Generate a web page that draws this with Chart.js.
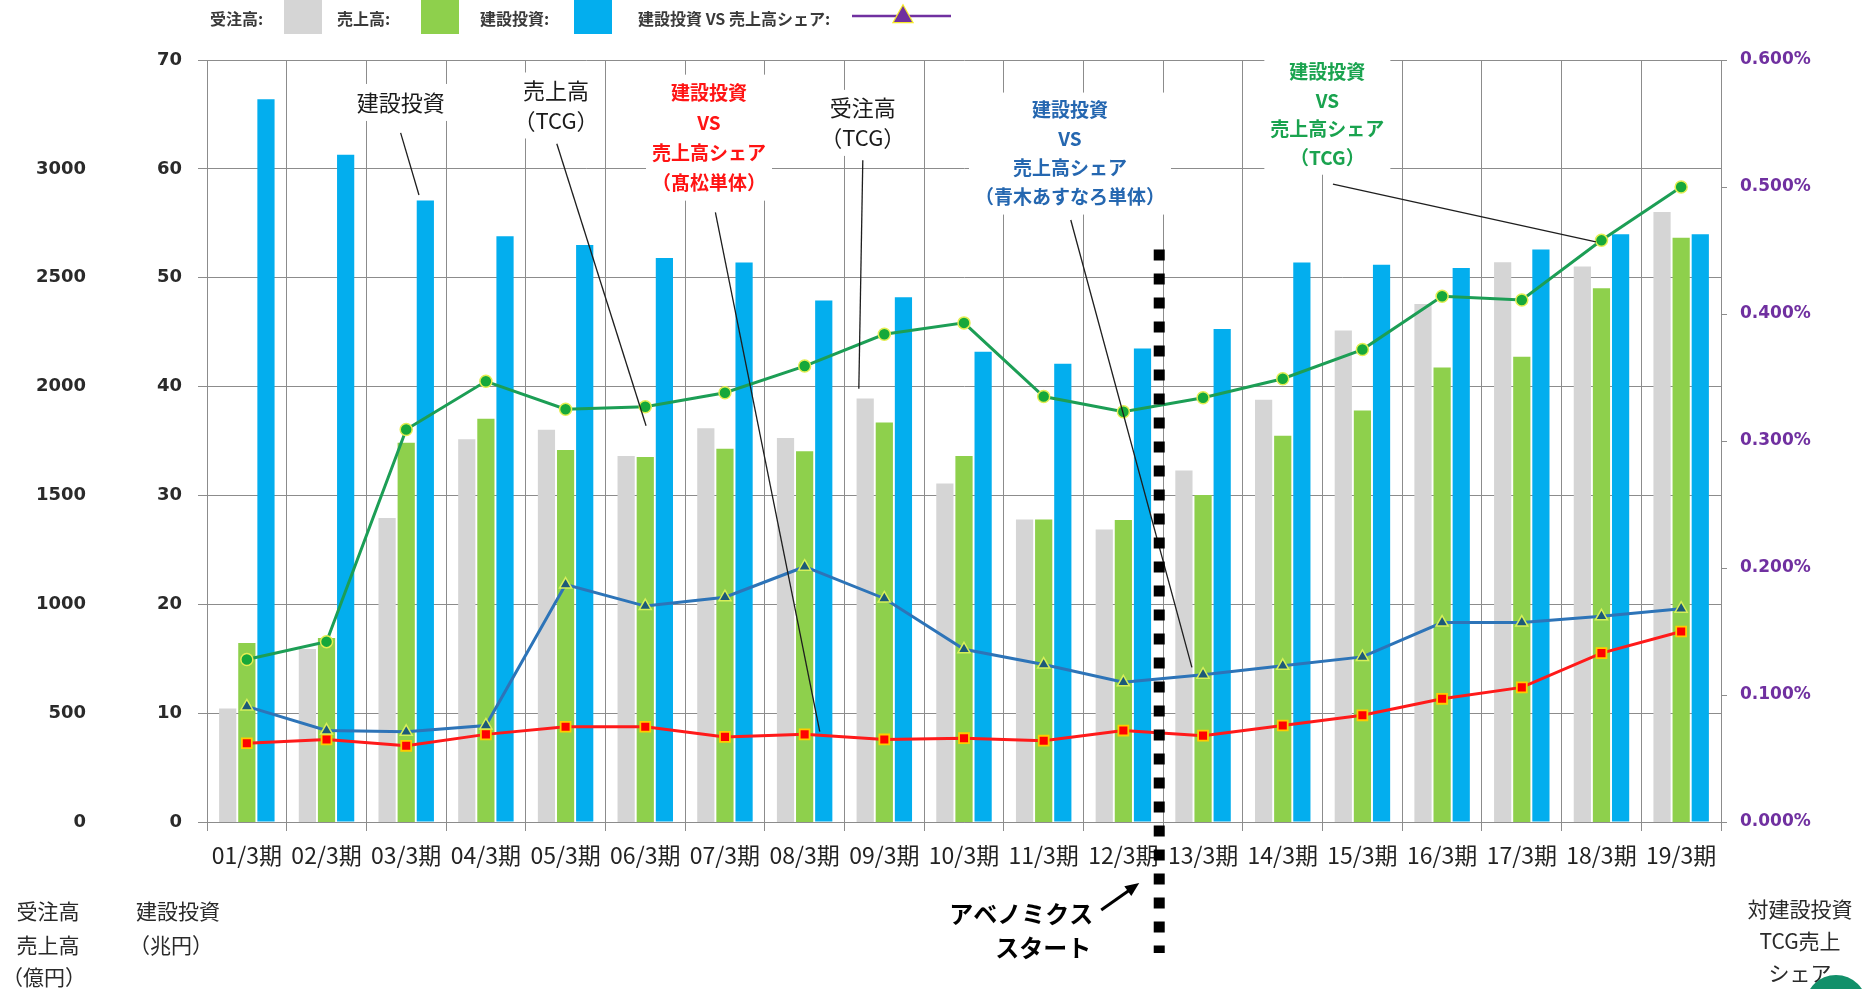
<!DOCTYPE html>
<html><head><meta charset="utf-8">
<script src="https://cdn.jsdelivr.net/npm/chart.js@4.4.1/dist/chart.umd.min.js"></script>
<style>
html,body{margin:0;padding:0;background:#fff;}
#wrap{position:relative;width:1875px;height:989px;overflow:hidden;}
canvas{display:block;}
</style>
</head><body>
<div id="wrap"><canvas id="c" width="1875" height="989"></canvas></div>
<script>
// ---------------- data ----------------
const categories = ['01/3期','02/3期','03/3期','04/3期','05/3期','06/3期','07/3期','08/3期','09/3期','10/3期','11/3期','12/3期','13/3期','14/3期','15/3期','16/3期','17/3期','18/3期','19/3期'];
const ordersOku = [521, 795, 1396, 1758, 1802, 1681, 1808, 1764, 1945, 1555, 1390, 1343, 1614, 1940, 2258, 2379, 2571, 2552, 2802];   // 受注高 (億円)
const salesOku  = [822, 845, 1742, 1852, 1709, 1676, 1714, 1703, 1835, 1681, 1390, 1387, 1502, 1774, 1890, 2088, 2137, 2452, 2683];   // 売上高 (億円)
const investCho = [66.4, 61.3, 57.1, 53.8, 53.0, 51.8, 51.4, 47.9, 48.2, 43.2, 42.1, 43.5, 45.3, 51.4, 51.2, 50.9, 52.6, 54.0, 54.0]; // 建設投資 (兆円)
const shareTCG  = [0.128, 0.142, 0.309, 0.347, 0.325, 0.327, 0.338, 0.359, 0.384, 0.393, 0.335, 0.323, 0.334, 0.349, 0.372, 0.414, 0.411, 0.458, 0.500];
const shareAoki = [0.091, 0.072, 0.071, 0.076, 0.187, 0.170, 0.177, 0.201, 0.176, 0.136, 0.124, 0.110, 0.116, 0.123, 0.130, 0.157, 0.157, 0.162, 0.168];
const shareTakamatsu = [0.062, 0.065, 0.060, 0.069, 0.075, 0.075, 0.067, 0.069, 0.065, 0.066, 0.064, 0.072, 0.068, 0.076, 0.084, 0.097, 0.106, 0.133, 0.150];
const choTicks = [0, 10, 20, 30, 40, 50, 60, 70];
const okuTicks = [0, 500, 1000, 1500, 2000, 2500, 3000];
const pctTicks = [0, 0.1, 0.2, 0.3, 0.4, 0.5, 0.6];
const pctTickLabels = ['0.000%', '0.100%', '0.200%', '0.300%', '0.400%', '0.500%', '0.600%'];
const legendLabels = ['受注高:', '売上高:', '建設投資:', '建設投資 VS 売上高シェア:'];

// ---------------- styles ----------------
const JP = '"Noto Sans CJK JP", "Noto Sans", sans-serif';
const GRID = '#8c8c8c';
const C_ORDER = '#d5d5d5', C_SALES = '#8ed04c', C_INVEST = '#03aeee';

// annotations: x in category index, y in 兆円 units
const annotations = [
  {lines:['建設投資'], x:1.93, y:66.1, color:'#1a1a1a', bold:false, size:22, lh:31, leader:[1.93,63.3,2.16,57.6]},
  {lines:['売上高','（TCG）'], x:3.88, y:67.2, color:'#1a1a1a', bold:false, size:22, lh:30, leader:[3.89,62.3,5.01,36.4]},
  {lines:['建設投資','VS','売上高シェア','（髙松単体）'], x:5.80, y:67.0, color:'#ff1414', bold:true, size:19, lh:30, leader:[5.88,56.0,7.19,8.3]},
  {lines:['受注高','（TCG）'], x:7.73, y:65.6, color:'#1a1a1a', bold:false, size:22, lh:30, leader:[7.73,60.8,7.68,39.8]},
  {lines:['建設投資','VS','売上高シェア','（青木あすなろ単体）'], x:10.33, y:65.4, color:'#2567b0', bold:true, size:19, lh:29, leader:[10.34,55.3,11.86,14.2]},
  {lines:['建設投資','VS','売上高シェア','（TCG）'], x:13.56, y:68.9, color:'#1aa34f', bold:true, size:19, lh:28.5, leader:[13.63,58.6,16.93,53.3]}
];

function annGeom(chart, a){
  const {ctx} = chart; const xs = chart.scales.x, ys = chart.scales.yCho;
  ctx.font = (a.bold ? 'bold ' : '') + a.size + 'px ' + JP;
  let w = 0; a.lines.forEach(t => { w = Math.max(w, ctx.measureText(t).width); });
  const cx = xs.getPixelForValue(a.x), cy = ys.getPixelForValue(a.y);
  return {cx, cy, w, h: a.lh * a.lines.length};
}

const decor = {
  id: 'decor',
  beforeDatasetsDraw(chart){
    const {ctx} = chart;
    ctx.save();
    ctx.fillStyle = '#ffffff';
    annotations.forEach(a => {
      const g = annGeom(chart, a);
      ctx.fillRect(g.cx - g.w/2 - 6, g.cy - a.lh/2 - 3, g.w + 12, g.h + 6);
    });
    ctx.restore();
  },
  afterDatasetsDraw(chart){
    const {ctx} = chart; const xs = chart.scales.x, ys = chart.scales.yCho;
    ctx.save();
    // leader lines
    ctx.strokeStyle = '#1e1e1e'; ctx.lineWidth = 1.3;
    annotations.forEach(a => {
      const [x1,y1,x2,y2] = a.leader;
      ctx.beginPath();
      ctx.moveTo(xs.getPixelForValue(x1), ys.getPixelForValue(y1));
      ctx.lineTo(xs.getPixelForValue(x2), ys.getPixelForValue(y2));
      ctx.stroke();
    });
    // texts
    ctx.textAlign = 'center'; ctx.textBaseline = 'middle';
    annotations.forEach(a => {
      const g = annGeom(chart, a);
      ctx.font = (a.bold ? 'bold ' : '') + a.size + 'px ' + JP;
      a.lines.forEach((t, i) => {
        const yy = g.cy + i * a.lh;
        if (a.bold) { ctx.strokeStyle = 'rgba(255,255,255,0.9)'; ctx.lineWidth = 3; ctx.strokeText(t, g.cx, yy); }
        ctx.fillStyle = a.color; ctx.fillText(t, g.cx, yy);
      });
    });
    // dotted vertical line (Abenomics start)
    const dx = xs.getPixelForValue(11.45);
    const top = ys.getPixelForValue(52.6);
    const bottom = chart.chartArea.bottom + 131;
    ctx.setLineDash([11, 13]); ctx.lineDashOffset = 0;
    ctx.strokeStyle = '#000'; ctx.lineWidth = 11; ctx.lineCap = 'butt';
    ctx.beginPath(); ctx.moveTo(dx, top); ctx.lineTo(dx, bottom); ctx.stroke();
    ctx.setLineDash([]);
    // arrow + text
    const b = chart.chartArea.bottom;
    const ax1 = dx - 58, ay1 = b + 88, ax2 = dx - 20, ay2 = b + 61;
    ctx.strokeStyle = '#000'; ctx.lineWidth = 3;
    ctx.beginPath(); ctx.moveTo(ax1, ay1); ctx.lineTo(ax2 - 6, ay2 + 4.5); ctx.stroke();
    const ang = Math.atan2(ay2 - ay1, ax2 - ax1);
    ctx.fillStyle = '#000'; ctx.beginPath();
    ctx.moveTo(ax2, ay2);
    ctx.lineTo(ax2 - 14*Math.cos(ang) + 6*Math.sin(ang), ay2 - 14*Math.sin(ang) - 6*Math.cos(ang));
    ctx.lineTo(ax2 - 14*Math.cos(ang) - 6*Math.sin(ang), ay2 - 14*Math.sin(ang) + 6*Math.cos(ang));
    ctx.closePath(); ctx.fill();
    ctx.font = 'bold 24px ' + JP; ctx.textAlign = 'right'; ctx.textBaseline = 'middle';
    ctx.fillText('アベノミクス', dx - 66, b + 92);
    ctx.fillText('スタート', dx - 68, b + 126);
    ctx.restore();
  },
  afterDraw(chart){
    const {ctx} = chart;
    ctx.save();
    // legend
    ctx.font = 'bold 16px ' + JP; ctx.textBaseline = 'middle'; ctx.textAlign = 'left'; ctx.fillStyle = '#3a3a3a';
    const lx = [210, 337, 480, 638];
    const bx = [284, 421, 574];
    const bcol = [C_ORDER, C_SALES, C_INVEST];
    legendLabels.forEach((t, i) => ctx.fillText(t, lx[i], 19));
    bcol.forEach((c, i) => { ctx.fillStyle = c; ctx.fillRect(bx[i], 0, 38, 34); });
    ctx.strokeStyle = '#7030a0'; ctx.lineWidth = 2.5;
    ctx.beginPath(); ctx.moveTo(852, 16); ctx.lineTo(951, 16); ctx.stroke();
    ctx.fillStyle = '#7030a0'; ctx.strokeStyle = '#f5e82a'; ctx.lineWidth = 2.5;
    ctx.beginPath(); ctx.moveTo(903, 6); ctx.lineTo(912, 22); ctx.lineTo(894, 22); ctx.closePath(); ctx.stroke(); ctx.fill();
    // axis titles
    ctx.fillStyle = '#2a2a2a'; ctx.font = '21px ' + JP; ctx.textAlign = 'center';
    [['受注高', 911], ['売上高', 945], ['（億円）', 977]].forEach(([t, y]) => ctx.fillText(t, t.startsWith('（') ? 44 : 48, y));
    [['建設投資', 911], ['（兆円）', 945]].forEach(([t, y]) => ctx.fillText(t, t.startsWith('（') ? 171 : 178, y));
    [['対建設投資', 909], ['TCG売上', 941], ['シェア', 973]].forEach(([t, y]) => ctx.fillText(t, 1800, y));
    // decorative circle
    ctx.fillStyle = '#12906a';
    ctx.beginPath(); ctx.arc(1836, 1006, 31, 0, Math.PI*2); ctx.fill();
    ctx.restore();
  }
};

new Chart(document.getElementById('c'), {
  type: 'bar',
  data: {
    labels: categories,
    datasets: [
      {type:'line', label:'建設投資 VS 売上高シェア (TCG)', data: shareTCG, yAxisID:'yPct', order:0,
       borderColor:'#1c9e55', borderWidth:3, tension:0, pointStyle:'circle', pointRadius:6,
       pointBackgroundColor:'#16a83a', pointBorderColor:'#e4ee52', pointBorderWidth:1.5},
      {type:'line', label:'建設投資 VS 売上高シェア (青木あすなろ単体)', data: shareAoki, yAxisID:'yPct', order:0,
       borderColor:'#2d74b8', borderWidth:3, tension:0, pointStyle:'triangle', pointRadius:7,
       pointBackgroundColor:'#1d5a78', pointBorderColor:'#d6ef5a', pointBorderWidth:1.5},
      {type:'line', label:'建設投資 VS 売上高シェア (髙松単体)', data: shareTakamatsu, yAxisID:'yPct', order:0,
       borderColor:'#ff1a1a', borderWidth:3, tension:0, pointStyle:'rect', pointRadius:7,
       pointBackgroundColor:'#ff0000', pointBorderColor:'#ffcc00', pointBorderWidth:1.8},
      {label:'受注高', data: ordersOku, yAxisID:'yOku', order:1, backgroundColor:C_ORDER,
       categoryPercentage:0.72, barPercentage:0.9},
      {label:'売上高', data: salesOku, yAxisID:'yOku', order:1, backgroundColor:C_SALES,
       categoryPercentage:0.72, barPercentage:0.9},
      {label:'建設投資', data: investCho, yAxisID:'yCho', order:1, backgroundColor:C_INVEST,
       categoryPercentage:0.72, barPercentage:0.9}
    ]
  },
  options: {
    responsive:false, animation:false,
    layout:{padding:{left:10, right:54, top:60, bottom:117}},
    plugins:{legend:{display:false}, tooltip:{enabled:false}},
    scales:{
      x:{
        offset:true,
        grid:{color:GRID, lineWidth:1, offset:true, drawTicks:true, tickLength:9, tickColor:GRID},
        border:{display:true, color:GRID},
        ticks:{color:'#222', font:{family:JP, size:23}, padding:10, maxRotation:0, autoSkip:false},
        afterFit(s){ s.height = 50; }
      },
      yCho:{
        position:'left', min:0, max:70,
        grid:{color:GRID, lineWidth:1, drawTicks:true, tickLength:9, tickColor:GRID},
        border:{display:true, color:GRID},
        ticks:{stepSize:10, padding:16, color:'#2a2a2a', font:{family:'"DejaVu Sans"', size:18, weight:'bold'},
               callback:(v) => choTicks.includes(v) ? String(v) : ''},
        afterFit(s){ s.width = 113; }
      },
      yOku:{
        position:'left', min:0, max:3500,
        grid:{display:false, drawTicks:false},
        border:{display:false},
        ticks:{stepSize:500, padding:8, color:'#2a2a2a', font:{family:'"DejaVu Sans"', size:18, weight:'bold'},
               callback:(v) => okuTicks.includes(v) ? String(v) : ''},
        afterFit(s){ s.width = 84; }
      },
      yPct:{
        position:'right', min:0, max:0.6,
        grid:{drawOnChartArea:false, drawTicks:true, tickLength:6, color:GRID},
        border:{display:true, color:GRID},
        ticks:{stepSize:0.1, padding:13, color:'#7030a0', font:{family:'"DejaVu Sans"', size:17, weight:'bold'},
               callback:(v) => { const i = pctTicks.findIndex(p => Math.abs(p - v) < 1e-6); return i >= 0 ? pctTickLabels[i] : ''; }},
        afterFit(s){ s.width = 100; }
      }
    }
  },
  plugins:[decor]
});
</script>
</body></html>
